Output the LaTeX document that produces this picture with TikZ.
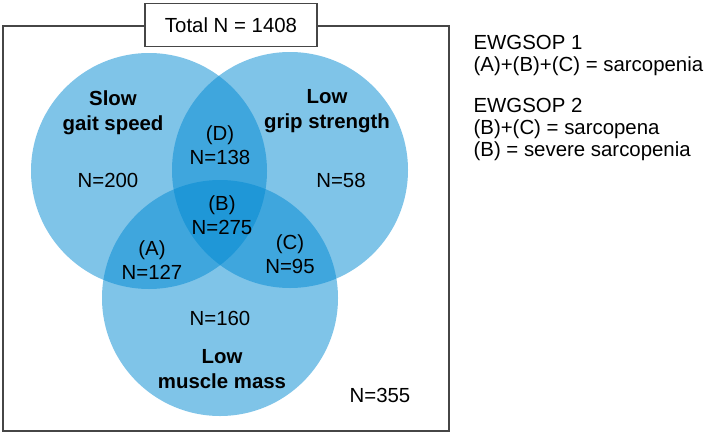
\documentclass[tikz,border=0pt]{standalone}
\usepackage{fontspec}
\setmainfont{Liberation Sans}
\usetikzlibrary{positioning}
\definecolor{vennblue}{RGB}{0,137,210}
\definecolor{framegray}{RGB}{70,70,70}
\tikzset{
  setcircle/.style={circle, minimum size=236pt, inner sep=0pt, fill=vennblue, fill opacity=0.5},
  setlabel/.style={align=center, inner sep=0pt, font=\bfseries\fontsize{20.4}{25}\selectfont},
  countlabel/.style={align=center, inner sep=0pt, font=\fontsize{20.4}{24}\selectfont},
  notelabel/.style={align=left, inner sep=0pt, anchor=north west, font=\fontsize{20.4}{22}\selectfont}
}
\begin{document}
\begin{tikzpicture}[x=1pt,y=-1pt,line width=1.2pt]
        \useasboundingbox (0,0) rectangle (709,434);
        % outer frame
        \draw[framegray] (3,26) rectangle (449,431);
        % the three sets
        \node (gait) [setcircle] at (149,171) {};
        \node (grip) [setcircle] at (290,170) {};
        \node (mass) [setcircle] at (220,298) {};
        \node (total) [draw=framegray, fill=white, minimum width=172pt, minimum height=43pt, font=\fontsize{20.4}{24}\selectfont] at (231,25) {Total N = 1408};
        
        \node (gaitname) [setlabel] at (113,113) {Slow\\gait speed};
        \node (gripname) [setlabel] at (327,111) {Low\\grip strength};
        \node (massname) [setlabel] at (222,369) {Low\\muscle mass};
        
        \node (ngait) [countlabel] at (108,180) {N=200};
        \node (ngrip) [countlabel] at (341,180) {N=58};
        \node (nmass) [countlabel] at (220,318) {N=160};
        \node (setd) [countlabel] at (220,145) {(D)\\N=138};
        \node (setb) [countlabel] at (222,215) {(B)\\N=275};
        \node (seta) [countlabel] at (152,260) {(A)\\N=127};
        \node (setc) [countlabel] at (290,254) {(C)\\N=95};
        \node (nnone) [countlabel] at (380,395) {N=355};
        
        \node (ewg1) [notelabel] at (473,35) {EWGSOP 1\\(A)+(B)+(C) = sarcopenia};
        \node (ewg2) [notelabel] at (473,98) {EWGSOP 2\\(B)+(C) = sarcopena\\(B) = severe sarcopenia};
    \end{tikzpicture}
\end{document}
